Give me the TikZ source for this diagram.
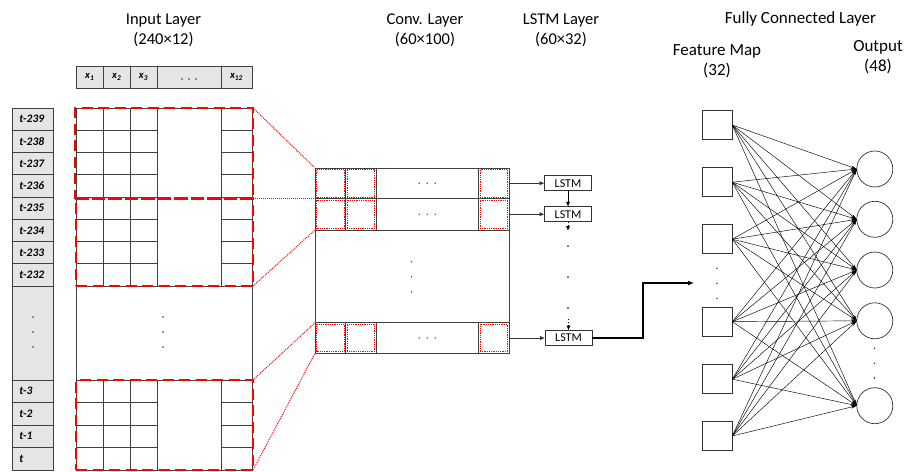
\documentclass[tikz,border=0pt]{standalone}
\usepackage{fontspec}
\setmainfont{Carlito}
\usetikzlibrary{arrows.meta,calc}
\begin{document}
\begin{tikzpicture}[x=1pt,y=-1pt,
  every node/.style={inner sep=0pt,outer sep=0pt},
  gcell/.style={draw=black!75,line width=0.7pt,anchor=north west},
  hcell/.style={draw=black!75,line width=0.7pt,anchor=north west,fill=gray!20,
    minimum height=22,font=\fontsize{10.5}{12}\selectfont\bfseries\itshape},
  tcell/.style={draw=black!75,line width=0.7pt,anchor=north west,fill=gray!20,
    minimum width=41,text width=26,align=left,font=\fontsize{11.5}{12}\selectfont\bfseries\itshape},
  rdash/.style={draw=red,line width=2.6pt,dash pattern=on 11pt off 5.5pt,anchor=north west},
  rdot/.style={draw=red,line width=0.8pt,densely dotted},
  rdotline/.style={red,line width=1pt,densely dotted},
  lstm/.style={draw=black!80,line width=0.7pt,minimum width=47,minimum height=15,font=\fontsize{12}{13}\selectfont},
  arr/.style={black!80,line width=0.8pt,-{Latex[length=5pt,width=4.5pt]}},
  fm/.style={draw=black!80,line width=0.7pt,minimum width=30,minimum height=29},
  outc/.style={draw=black!80,line width=0.7pt,circle,minimum size=36},
  fc/.style={black,line width=0.45pt,-{Stealth[length=6pt,width=3pt]}},
  head/.style={align=center,font=\fontsize{16.5}{20}\selectfont},
  headr/.style={align=center,font=\fontsize{17}{20}\selectfont}
]
\useasboundingbox (0,0) rectangle (907,471);

% headers
\node[head] (hin) at (163.5,30) {Input Layer\\(240×12)};
\node[head] (hconv) at (425,30) {Conv. Layer\\(60×100)};
\node[head] (hlstm) at (561,30) {LSTM Layer\\(60×32)};
\node[headr] (hfc) at (800.5,19) {Fully Connected Layer};
\node[headr] (hfm) at (717,61) {Feature Map\\(32)};
\node[headr] (hout) at (878,57.5) {Output\\(48)};

% column header row
\node[hcell,minimum width=27.5] (x1) at (76,66) {x\textsubscript{1}};
\node[hcell,minimum width=26.5] (x2) at (103.5,66) {x\textsubscript{2}};
\node[hcell,minimum width=27] (x3) at (130,66) {x\textsubscript{3}};
\node[hcell,minimum width=64] (xd) at (157,66) {};
\node[hcell,minimum width=31] (x12) at (221,66) {x\textsubscript{12}};
\foreach \dx in {-7,0,7} \fill[black!80] ($(xd.center)+(\dx,2)$) circle (0.8);

% time column
\foreach \lab [count=\i from 0] in {t-239,t-238,t-237,t-236,t-235,t-234,t-233,t-232}
  \node[tcell,minimum height=22.25] (t\i) at (12,{108+\i*22.25}) {\lab};
\node[tcell,minimum height=94] (tmid) at (12,286) {};
\foreach \lab [count=\i from 0] in {t-3,t-2,t-1,t}
  \node[tcell,minimum height=22.5] (tb\i) at (12,{380+\i*22.5}) {\lab};

% input grid
\foreach \cx/\cw [count=\c] in {76/27.5,103.5/26.5,130/27,221/31}{
  \foreach \r in {0,...,7}
    \node[gcell,minimum width=\cw,minimum height=22.25] (g\r-\c) at (\cx,{108+\r*22.25}) {};
  \foreach \r in {0,...,3}
    \node[gcell,minimum width=\cw,minimum height=22.5] (gb\r-\c) at (\cx,{380+\r*22.5}) {};
}
\node[gcell,minimum width=64,minimum height=178] (gtopmid) at (157,108) {};
\node[gcell,minimum width=176,minimum height=94] (gmid) at (76,286) {};
\node[gcell,minimum width=64,minimum height=90] (gbotmid) at (157,380) {};
\foreach \dy in {-15,0,15}{
  \fill[black!80] ($(gmid.center)+(-1,\dy-1)$) circle (0.8);
  \fill[black!80] ($(tmid.center)+(0.5,\dy-1)$) circle (0.8);
}

% red dashed windows
\node[rdash,minimum width=178,minimum height=90.5] (rb1) at (75,108) {};
\node[rdash,minimum width=177,minimum height=87.5] (rb2) at (76,198.5) {};
\node[rdash,minimum width=177,minimum height=90] (rb3) at (76,380) {};

% conv layer
\foreach \ry/\rh [count=\r] in {168/30.5,198.5/31.5,322.7/30.6}{
  \node[gcell,minimum width=30.7,minimum height=\rh] (cv\r-1) at (315,\ry) {};
  \node[gcell,minimum width=30.3,minimum height=\rh] (cv\r-2) at (345.7,\ry) {};
  \node[gcell,minimum width=102.3,minimum height=\rh] (cv\r-3) at (376,\ry) {};
  \node[gcell,minimum width=30.7,minimum height=\rh] (cv\r-4) at (478.3,\ry) {};
  \node[rdot,minimum width=27.5,minimum height={\rh-3}] (rd\r-1) at (cv\r-1.center) {};
  \node[rdot,minimum width=27.2,minimum height={\rh-3}] (rd\r-2) at (cv\r-2.center) {};
  \node[rdot,minimum width=27.5,minimum height={\rh-3}] (rd\r-4) at (cv\r-4.center) {};
  \foreach \dx in {-8,0,8} \fill[black!80] ($(cv\r-3.center)+(\dx,0)$) circle (0.8);
}
\node[gcell,minimum width=194,minimum height=92.7] (cvmid) at (315,230) {};
\foreach \dy in {-15,0,15} \fill[black!80] ($(cvmid.center)+(-0.5,\dy+0.5)$) circle (0.8);

% red dotted projections
\draw[rdotline] (rb1.north east) -- (cv1-1.north west);
\draw[rdotline] (rb1.south east) -- (cv2-1.north west);
\draw[rdotline] (rb2.south east) -- (cv2-1.south west);
\draw[rdotline] (rb3.north east) -- (cv3-1.north west);
\draw[rdotline] (rb3.south east) -- (cv3-1.south west);

% LSTM cells
\node[lstm] (l1) at (568,183.25) {LSTM};
\node[lstm] (l2) at (568,214.25) {LSTM};
\node[lstm] (l3) at (568.5,338) {LSTM};
\draw[arr] (cv1-4.east) -- (l1.west);
\draw[arr] (cv2-4.east) -- (l2.west);
\draw[arr] (cv3-4.east) -- (l3.west);
\draw[arr,black,line width=1pt] (l1.south) -- (l2.north);
\coordinate (ld1) at (568,231);
\coordinate (ld2) at (568.5,319);
\draw[arr,black,line width=1pt,dotted] (l2.south) -- (ld1);
\draw[arr,black,line width=1pt,dotted] (ld2) -- (l3.north);
\foreach \yy in {246,277,308} \fill (568,\yy) circle (0.8);

% LSTM -> feature map
\coordinate (fmin) at (694,283);
\draw[black,line width=1.3pt,-{Latex[length=6pt,width=5pt]}] (l3.east) -- ++(51,0) |- (fmin);

% feature map squares
\foreach \yy [count=\i] in {125,182.2,239.2,321.7,379.2,436}
  \node[fm] (f\i) at (717.3,\yy) {};
\foreach \yy in {268.3,283.3,298.3} \fill[black!80] (717,\yy) circle (0.8);

% output circles
\foreach \yy [count=\j] in {169,219.3,270,320.8,405.7}
  \node[outc] (o\j) at (874.8,\yy) {};
\foreach \yy in {348.3,363.3,378} \fill[black!80] (874.5,\yy) circle (0.8);

% full connections
\foreach \i in {1,...,6}
  \foreach \j in {1,...,5}
    \draw[fc] (f\i.east) -- (o\j.west);
\end{tikzpicture}
\end{document}
